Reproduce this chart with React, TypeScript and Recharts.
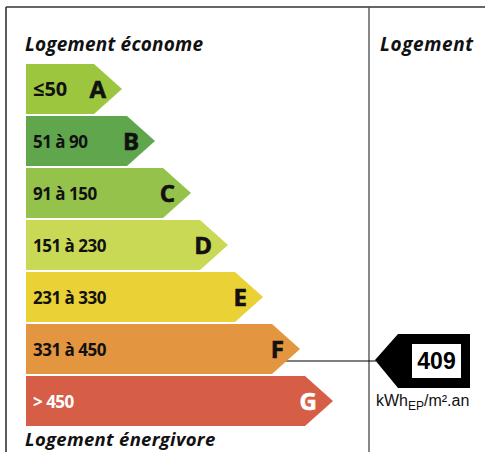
import React from "react";
import { BarChart, Bar, XAxis, YAxis, Customized } from "recharts";

const letters = ["A", "B", "C", "D", "E", "F", "G"];
const ranges = ["≤50", "51 à 90", "91 à 150", "151 à 230", "231 à 330", "331 à 450", "> 450"];
// bar lengths (px-ish)
const lengths = [96, 129, 165, 202, 237, 274, 307];
const colors = ["#9cc63e", "#5fa64c", "#95c24a", "#cad955", "#e9d136", "#e4953f", "#d75e46"];
const textColors = ["#111", "#111", "#111", "#111", "#111", "#111", "#fff"];
const currentValue = 409;
const currentClass = "F";

const data = letters.map((l, i) => ({
  letter: l,
  range: ranges[i],
  length: lengths[i],
  color: colors[i],
  textColor: textColors[i],
}));

const FONT = "'Open Sans', sans-serif";
const TIP = 28;

function ArrowBar(props: any) {
  const { x, y, width, height, payload } = props;
  const cy = y + height / 2;
  const end = x + width;
  const pts = [
    [x, y],
    [end - TIP, y],
    [end, cy],
    [end - TIP, y + height],
    [x, y + height],
  ]
    .map((p) => p.join(","))
    .join(" ");
  const isCurrent = payload.letter === currentClass;
  const ly = cy + 12;
  const first = payload.letter === "A";
  return (
    <g>
      {isCurrent && (
        <g>
          <line x1={end - 20} y1={ly} x2={376} y2={ly} stroke="#000" strokeWidth={1.2} />
          <polygon
            points={`375,${ly - 1} 398,${ly - 27} 470,${ly - 27} 470,${ly + 27} 398,${ly + 27}`}
            fill="#000"
          />
          <rect x={412} y={ly - 17} width={49} height={34} fill="#fff" />
          <text
            x={436.5}
            y={ly + 8}
            textAnchor="middle"
            fontFamily="'Liberation Sans', Arial, sans-serif"
            fontWeight={700}
            fontSize={23}
            fill="#000"
          >
            {currentValue}
          </text>
        </g>
      )}
      <polygon points={pts} fill={payload.color} />
      <text
        x={x + 7}
        y={cy + 6.5}
        fontFamily={FONT}
        fontWeight={700}
        fontSize={first ? 20 : 17}
        letterSpacing={first ? 0 : -0.5}
        fill={payload.textColor}
      >
        {payload.range}
      </text>
      <text
        x={end - 16}
        y={cy + 8.5}
        textAnchor="end"
        fontFamily={FONT}
        fontWeight={700}
        fontSize={24}
        stroke={payload.textColor}
        strokeWidth={0.6}
        fill={payload.textColor}
      >
        {payload.letter}
      </text>
    </g>
  );
}

function Frame() {
  const head = { fontFamily: FONT, fontStyle: "italic", fontWeight: 700, fontSize: 19, fill: "#111" } as any;
  return (
    <g>
      <line x1={6} y1={7} x2={485} y2={7} stroke="#333" strokeWidth={1.6} />
      <line x1={6} y1={7} x2={6} y2={452} stroke="#333" strokeWidth={1.6} />
      <line x1={369} y1={7} x2={369} y2={452} stroke="#555" strokeWidth={1.4} />
      <text x={25} y={51} {...head} letterSpacing={0.2}>
        Logement économe
      </text>
      <text x={380} y={51} {...head} letterSpacing={0.6}>
        Logement
      </text>
      <text x={25} y={446} {...head} fontSize={18.5} letterSpacing={0.3}>
        Logement énergivore
      </text>
      <text x={376} y={406} fontFamily="'Liberation Sans', Arial, sans-serif" fontSize={16} fill="#111">
        kWh
        <tspan fontSize={12} dy={4}>EP</tspan>
        <tspan dy={-4}>/m².an</tspan>
      </text>
    </g>
  );
}

export default function App() {
  return (
    <div style={{ position: "absolute", left: 0, top: 0, width: 485, height: 452, background: "#fff" }}>
      <BarChart
        width={485}
        height={452}
        data={data}
        layout="vertical"
        margin={{ top: 63, right: 116, bottom: 25, left: 26 }}
        barCategoryGap={1}
      >
        <XAxis type="number" domain={[0, 343]} hide />
        <YAxis type="category" dataKey="letter" hide />
        <Customized component={<Frame />} />
        <Bar dataKey="length" shape={<ArrowBar />} isAnimationActive={false} />
      </BarChart>
    </div>
  );
}
